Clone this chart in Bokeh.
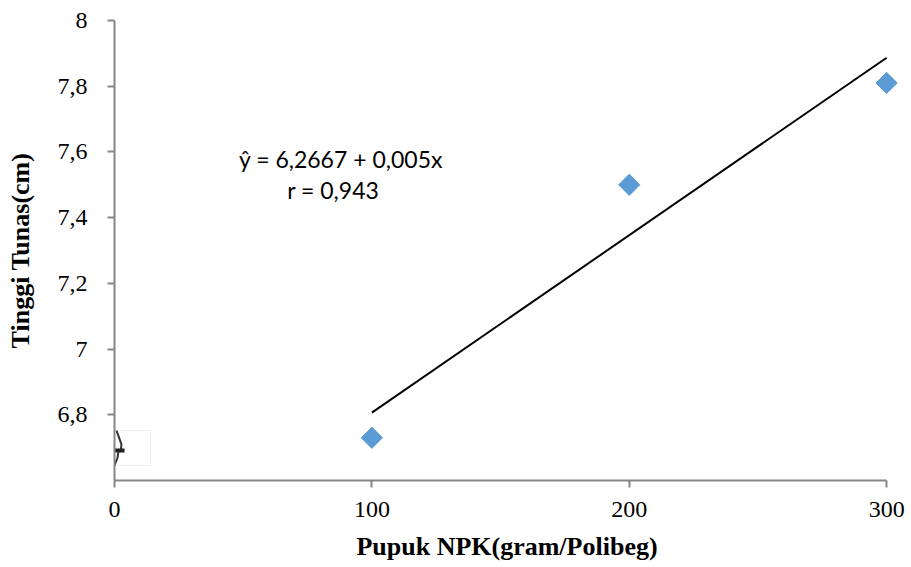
import numpy as np
from bokeh.plotting import figure
from bokeh.models import Range1d, FixedTicker, CustomJSTickFormatter, ColumnDataSource
from bokeh.core.properties import value
from bokeh.embed import file_html
from bokeh.resources import INLINE

# Data
dose = [100, 200, 300]
height = [6.73, 7.50, 7.81]
x_ticks = [0, 100, 200, 300]
y_ticks = [6.8, 7.0, 7.2, 7.4, 7.6, 7.8, 8.0]
eq_label = "ŷ = 6,2667 + 0,005x"
r_label = "r = 0,943"

slope, intercept = np.polyfit(dose, height, 1)
line_x = [min(dose), max(dose)]
line_y = [intercept + slope * v for v in line_x]

p = figure(width=905, height=566, output_backend="svg", toolbar_location=None,
           x_range=Range1d(0, 305), y_range=Range1d(6.6, 8.0),
           min_border_left=114, min_border_right=6, min_border_top=20, min_border_bottom=86)
p.outline_line_color = None
p.xgrid.visible = False
p.ygrid.visible = False
p.background_fill_color = "white"

axis_color = "#868686"
for ax in (p.xaxis[0], p.yaxis[0]):
    ax.axis_line_color = axis_color
    ax.axis_line_width = 2
    ax.major_tick_line_color = axis_color
    ax.major_tick_line_width = 2
    ax.major_tick_out = 7
    ax.major_tick_in = 0
    ax.minor_tick_line_color = None
    ax.major_label_text_font = "Liberation Serif"
    ax.major_label_text_font_size = "24px"
    ax.major_label_text_color = "black"
    ax.axis_label_text_font = "Liberation Serif"
    ax.axis_label_text_font_style = "bold"
    ax.axis_label_text_font_size = "26px"
    ax.axis_label_text_color = "black"

p.xaxis[0].bounds = (0, 300)
p.xaxis[0].ticker = FixedTicker(ticks=x_ticks)
p.yaxis[0].ticker = FixedTicker(ticks=y_ticks)
p.yaxis[0].formatter = CustomJSTickFormatter(code="""
    var s = (Math.round(tick*10)/10).toString();
    return s.replace('.', ',');
""")
p.xaxis[0].major_label_standoff = 14
p.yaxis[0].major_label_standoff = 20
p.xaxis[0].axis_label = "Pupuk NPK(gram/Polibeg)"
p.yaxis[0].axis_label = "Tinggi Tunas(cm)"
p.xaxis[0].axis_label_standoff = 12
p.yaxis[0].axis_label_standoff = 20

# axis break artifact
p.rect(x=[5.8], y=[6.699], width=16.3, height=0.106, fill_color=None,
       line_color="#f0f0f0", line_width=1)
p.line(x=[0.8, 2.7, 2.5], y=[6.752, 6.71, 6.693], line_color="#333333", line_width=2)
p.line(x=[0.0, 3.9], y=[6.691, 6.691], line_color="#222222", line_width=4)
p.line(x=[1.5, 1.2, 0.0], y=[6.688, 6.67, 6.646], line_color="#333333", line_width=2)

p.line(line_x, line_y, line_color="black", line_width=2)
src = ColumnDataSource(dict(x=dose, y=height))
p.scatter("x", "y", source=src, marker="square", angle=np.pi / 4, size=15,
          fill_color="#5B9BD5", line_color="#5B9BD5")

p.text(x=[88], y=[7.58], text=[eq_label], text_align="center", text_baseline="middle",
       text_font=value("Lato"), text_font_size="23px", text_color="black")
p.text(x=[85], y=[7.483], text=[r_label], text_align="center", text_baseline="middle",
       text_font=value("Lato"), text_font_size="23px", text_color="black")

open("out.html", "w").write(file_html(p, INLINE))
